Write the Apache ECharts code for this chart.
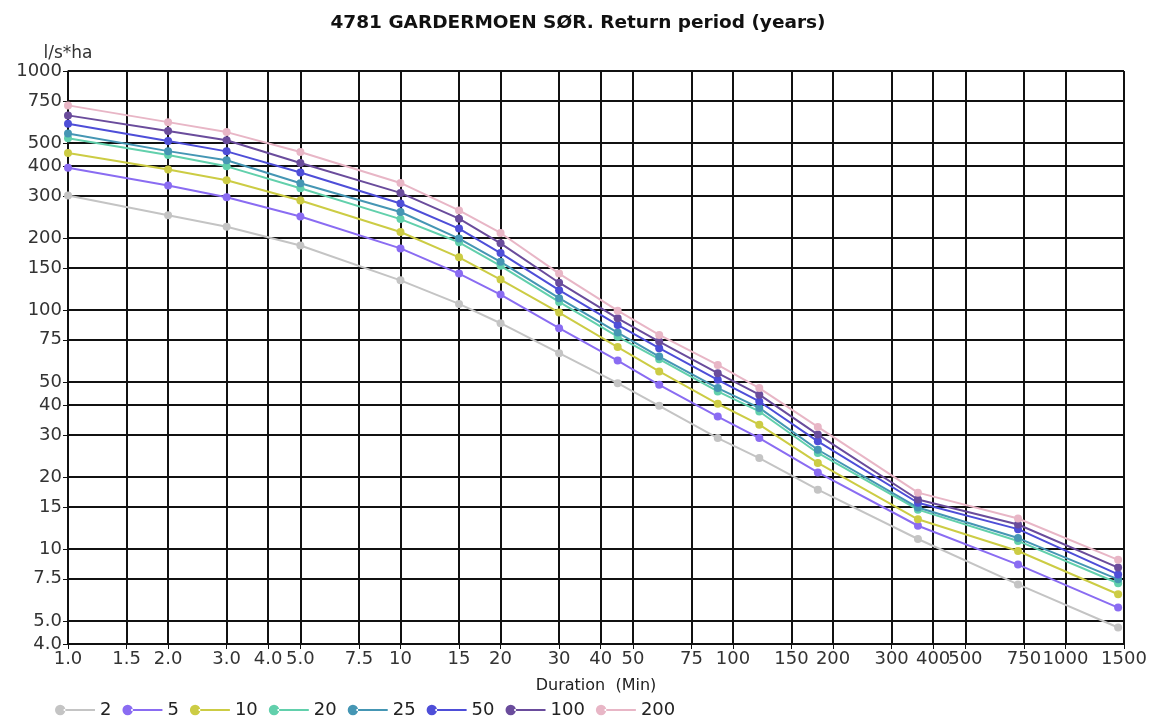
<!DOCTYPE html>
<html>
<head>
<meta charset="utf-8">
<script src="https://cdn.jsdelivr.net/npm/echarts@6/dist/echarts.min.js"></script>
<style>
  html, body { margin: 0; padding: 0; background: #fff; }
  #chart { width: 1156px; height: 717px; }
</style>
</head>
<body>
<div id="chart"></div>
<script>
// durations (min) where the curves have points
const durations = [1, 2, 3, 5, 10, 15, 20, 30, 45, 60, 90, 120, 180, 360, 720, 1440]

// intensity l/s*ha per return period
const rp2 = [301, 249, 223, 186, 133, 106, 88, 65.9, 49.4, 39.7, 29.1, 24.0, 17.7, 11.0, 7.1, 4.69]
const rp5 = [394, 332, 296, 246, 181, 142, 116, 83.9, 61.4, 48.6, 35.8, 29.1, 20.9, 12.5, 8.6, 5.68]
const rp10 = [454, 387, 349, 287, 212, 166, 134, 97.5, 69.9, 55.3, 40.5, 33.1, 22.9, 13.3, 9.8, 6.46]
const rp20 = [523, 445, 399, 323, 240, 192, 153, 108, 77.3, 62.2, 45.6, 37.6, 25.2, 14.6, 10.8, 7.18]
const rp25 = [548, 462, 423, 339, 257, 199, 159, 112, 80.4, 63.8, 47.1, 38.9, 26.0, 14.9, 11.1, 7.46]
const rp50 = [602, 509, 461, 376, 279, 219, 173, 121, 86.6, 69.2, 51.0, 41.4, 28.2, 15.6, 12.1, 7.82]
const rp100 = [652, 561, 513, 412, 309, 241, 190, 130, 92.3, 73.7, 54.4, 44.2, 30.1, 16.1, 12.65, 8.35]
const rp200 = [718, 611, 555, 458, 340, 261, 210, 142, 99.3, 78.6, 58.9, 47.1, 32.4, 17.2, 13.4, 9.0]

const seriesNames = ['2', '5', '10', '20', '25', '50', '100', '200']
const seriesValues = [rp2, rp5, rp10, rp20, rp25, rp50, rp100, rp200]
const seriesColors = ['#c4c4c4', '#8a6cf2', '#cccc44', '#62d0ac', '#4596b4', '#4e4ed8', '#6a4c9c', '#e8b6c6']

// tick labels
const xTicks = [1, 1.5, 2, 3, 4, 5, 7.5, 10, 15, 20, 30, 40, 50, 75, 100, 150, 200, 300, 400, 500, 750, 1000, 1500]
const yTicks = [4, 5, 7.5, 10, 15, 20, 30, 40, 50, 75, 100, 150, 200, 300, 400, 500, 750, 1000]

const fmt = v => (v < 10 ? Number(v).toFixed(1) : String(Math.round(v)))
const font = 'DejaVu Sans'

// legend icon: dot at the left end of a short line
const legendIcon = 'path://M0,6A6,6 0 1,0 12,6A6,6 0 1,0 0,6Z M10,4.8L46,4.8L46,7.2L10,7.2Z'

const chart = echarts.init(document.getElementById('chart'))

const option = {
  animation: false,
  backgroundColor: '#fff',
  title: {
    text: '4781 GARDERMOEN SØR. Return period (years)',
    left: 'center',
    top: 9,
    textStyle: { fontFamily: font, fontSize: 18.5, fontWeight: 'bold', color: '#111' }
  },
  legend: {
    left: 50,
    top: 696,
    itemWidth: 40,
    itemHeight: 11,
    itemGap: 11,
    icon: legendIcon,
    data: seriesNames,
    textStyle: { fontFamily: font, fontSize: 18, color: '#222' }
  },
  grid: { left: 68, right: 32, top: 71, bottom: 73 },
  xAxis: {
    type: 'log',
    min: 1,
    max: 1500,
    name: 'Duration  (Min)',
    nameLocation: 'middle',
    nameGap: 34,
    nameTextStyle: { fontFamily: font, fontSize: 16, color: '#222' },
    axisLine: { show: true, lineStyle: { color: '#111', width: 1.5 } },
    axisTick: { show: true, length: 5, customValues: xTicks, lineStyle: { color: '#111' } },
    axisLabel: {
      customValues: xTicks,
      formatter: fmt,
      margin: 6,
      fontFamily: font,
      fontSize: 18,
      color: '#333',
      hideOverlap: false
    },
    splitLine: { show: true, lineStyle: { color: '#111', width: 2 } },
    minorSplitLine: { show: false }
  },
  yAxis: {
    type: 'log',
    min: 4,
    max: 1000,
    name: 'l/s*ha',
    nameLocation: 'end',
    nameGap: 9,
    nameTextStyle: { fontFamily: font, fontSize: 17, color: '#333', align: 'center' },
    axisLine: { show: true, lineStyle: { color: '#111', width: 1.5 } },
    axisTick: { show: true, length: 5, customValues: yTicks, lineStyle: { color: '#111' } },
    axisLabel: {
      customValues: yTicks,
      formatter: fmt,
      margin: 6,
      fontFamily: font,
      fontSize: 18,
      color: '#333',
      hideOverlap: false
    },
    splitLine: { show: true, lineStyle: { color: '#111', width: 2 } }
  },
  series: seriesNames.map((name, i) => ({
    name: name,
    type: 'line',
    data: durations.map((d, j) => [d, seriesValues[i][j]]),
    symbol: 'circle',
    symbolSize: 8,
    color: seriesColors[i],
    lineStyle: { width: 2, color: seriesColors[i] },
    itemStyle: { color: seriesColors[i] }
  }))
}

chart.setOption(option)
</script>
</body>
</html>
